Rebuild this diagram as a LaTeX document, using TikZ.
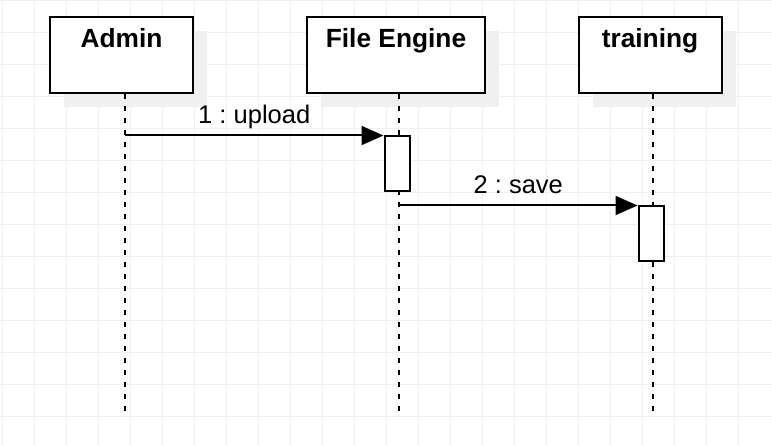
\documentclass[tikz,border=0pt]{standalone}
\usepackage{fontspec}
\setmainfont{Liberation Sans}
\usetikzlibrary{arrows.meta,shadows}
\frenchspacing
\tikzset{
  obj/.style={draw,line width=2pt,fill=white,inner sep=0pt,text height=31pt,text depth=45pt,
    font=\bfseries\fontsize{26.3}{30}\selectfont,
    drop shadow={shadow xshift=14pt,shadow yshift=-14pt,fill=black!6,opacity=1}},
  act/.style={draw,line width=2pt,fill=white,minimum width=25pt,minimum height=55pt,inner sep=0pt},
  life/.style={line width=1.8pt,dash pattern=on 5.5pt off 6.5pt},
  msg/.style={line width=2pt,-{Triangle[length=22pt,width=19pt]}},
  msglbl/.style={midway,anchor=base,yshift=12pt,font=\fontsize{25.5}{29}\selectfont},
  gridline/.style={line width=1pt,draw=black!6}
}
\begin{document}
\begin{tikzpicture}[line cap=butt,line join=miter,x=1pt,y=-1pt]
\useasboundingbox[fill=white] (0,0) rectangle (772,446);
\foreach \x in {2.5,34.5,...,770}
{
\draw[gridline] (\x,0)--(\x,446);
}
\foreach \y in {0.5,32.5,...,446}
{
\draw[gridline] (0,\y)--(772,\y);
}
\node[obj,minimum width=143pt] (admin) at (121.5,54.7) {Admin};
\node[obj,minimum width=178pt] (engine) at (396,54.7) {File Engine};
\node[obj,minimum width=143pt] (training) at (650,54.7) {training};
\coordinate (adminEnd) at (125,413);
\coordinate (engineEnd) at (399,413);
\coordinate (trainingEnd) at (653,413);
\draw[life] (admin.south -| adminEnd) -- (adminEnd);
\draw[life] (engine.south -| engineEnd) -- (engineEnd);
\draw[life] (training.south -| trainingEnd) -- (trainingEnd);
\node[act] (engineAct) at (397,164) {};
\node[act] (trainingAct) at (651,234) {};
\draw[msg] (adminEnd |- engineAct.north west) -- (engineAct.north west) node[msglbl] {1 : upload};
\draw[msg] (engineEnd |- trainingAct.north west) -- (trainingAct.north west) node[msglbl] {2 : save};
\end{tikzpicture}
\end{document}
